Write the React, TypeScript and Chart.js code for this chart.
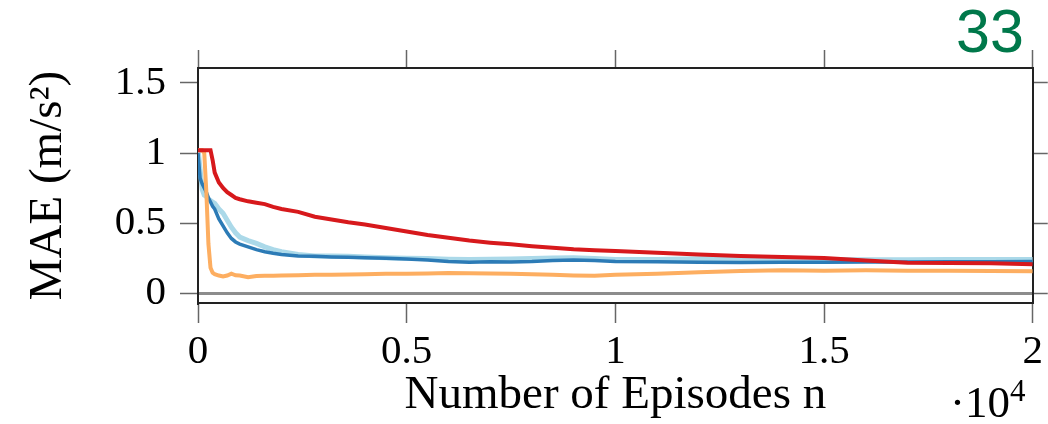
import React, { useEffect, useRef } from "react";
import { Chart, registerables } from "chart.js";

Chart.register(...registerables);

// ---- data ----
const episodes = [
  0, 50, 100, 150, 200, 250, 300, 350, 400,
  500, 600, 700, 800, 900, 1000,
  1200, 1400, 1600, 1800, 2000,
  2400, 2800, 3200, 3600, 4000,
  4500, 5000, 5500, 6000, 6500, 7000, 7500, 8000, 8500, 9000, 9500, 10000,
  11000, 12000, 13000, 14000, 15000, 16000, 17000, 18000, 19000, 20000,
];

const redSeries = [
  1.02, 1.02, 1.02, 1.02, 1.02, 1.02, 1.02, 0.95, 0.86,
  0.79, 0.75, 0.72, 0.7, 0.68, 0.67,
  0.655, 0.645, 0.635, 0.615, 0.6,
  0.58, 0.545, 0.525, 0.505, 0.49,
  0.465, 0.44, 0.415, 0.395, 0.375, 0.36, 0.348, 0.335, 0.323, 0.312, 0.305, 0.3,
  0.288, 0.275, 0.264, 0.258, 0.25, 0.232, 0.217, 0.214, 0.212, 0.206,
];

const orangeSeries = [
  1.02, 1.02, 1.02, 1.0, 0.72, 0.35, 0.18, 0.145, 0.135,
  0.125, 0.118, 0.125, 0.138, 0.127, 0.125,
  0.113, 0.122, 0.124, 0.124, 0.125,
  0.128, 0.13, 0.131, 0.133, 0.135,
  0.137, 0.138, 0.14, 0.143, 0.142, 0.14, 0.137, 0.134, 0.13, 0.126, 0.124, 0.13,
  0.137, 0.148, 0.158, 0.163, 0.16, 0.162, 0.16, 0.16, 0.158, 0.156,
];

const darkBlueSeries = [
  1.0, 0.82, 0.78, 0.75, 0.72, 0.68, 0.65, 0.62, 0.6,
  0.53, 0.48, 0.43, 0.39, 0.365, 0.35,
  0.33, 0.31, 0.295, 0.284, 0.275,
  0.264, 0.262, 0.258, 0.255, 0.252,
  0.248, 0.243, 0.236, 0.226, 0.22, 0.224, 0.222, 0.225, 0.232, 0.236, 0.232, 0.226,
  0.224, 0.22, 0.218, 0.22, 0.22, 0.221, 0.222, 0.223, 0.224, 0.225,
];

const lightBlueSeries = [
  1.03, 0.88, 0.74, 0.7, 0.69, 0.67, 0.66, 0.65, 0.64,
  0.6, 0.57, 0.52, 0.47, 0.43, 0.4,
  0.375, 0.355, 0.33, 0.31, 0.295,
  0.275, 0.264, 0.265, 0.262, 0.258,
  0.252, 0.248, 0.246, 0.242, 0.24, 0.242, 0.244, 0.246, 0.25, 0.252, 0.246, 0.24,
  0.24, 0.245, 0.248, 0.244, 0.24, 0.238, 0.238, 0.24, 0.24, 0.24,
];

const xTickValues = [0, 5000, 10000, 15000, 20000];
const xTickLabels = ["0", "0.5", "1", "1.5", "2"];
const yTickValues = [0, 0.5, 1, 1.5];
const yTickLabels = ["0", "0.5", "1", "1.5"];

const X_MIN = 0;
const X_MAX = 20000;
const Y_MIN = -0.071;
const Y_MAX = 1.607;

const SERIF = "'Liberation Serif', 'Times New Roman', serif";

export default function App() {
  const canvasRef = useRef<HTMLCanvasElement | null>(null);

  useEffect(() => {
    const canvas = canvasRef.current;
    if (!canvas) return;
    const toPts = (ys: number[]) => episodes.map((x, i) => ({ x, y: ys[i] }));
    const xTicksFn = (s: any) => {
      s.ticks = xTickValues.map((v) => ({ value: v }));
    };
    const yTicksFn = (s: any) => {
      s.ticks = yTickValues.map((v) => ({ value: v }));
    };
    const tickFont = { family: SERIF, size: 41 };
    const titleFont = { family: SERIF, size: 47 };
    const chart = new Chart(canvas, {
      type: "line",
      data: {
        datasets: [
          { label: "red", data: toPts(redSeries), borderColor: "#d7191c", borderWidth: 4 },
          { label: "orange", data: toPts(orangeSeries), borderColor: "#fdae61", borderWidth: 4 },
          { label: "darkblue", data: toPts(darkBlueSeries), borderColor: "#2c7bb6", borderWidth: 3.5 },
          { label: "lightblue", data: toPts(lightBlueSeries), borderColor: "#abd9e9", borderWidth: 5 },
        ],
      },
      options: {
        responsive: false,
        animation: false,
        layout: { padding: 0 },
        elements: { point: { radius: 0 }, line: { tension: 0 } },
        plugins: { legend: { display: false }, tooltip: { enabled: false } },
        scales: {
          x: {
            type: "linear",
            position: "bottom",
            min: X_MIN,
            max: X_MAX,
            afterBuildTicks: xTicksFn,
            afterFit: (s: any) => {
              s.height = 121;
            },
            ticks: {
              callback: (_v: any, i: number) => xTickLabels[i],
              font: tickFont,
              color: "#000",
              padding: 5,
              maxRotation: 0,
              autoSkip: false,
            },
            grid: { drawOnChartArea: false, tickLength: 20, tickColor: "#666", tickWidth: 1.5 },
            border: { color: "#222", width: 2 },
            title: {
              display: true,
              text: "Number of Episodes n",
              font: titleFont,
              color: "#000",
              padding: { top: 0, bottom: 0 },
            },
          },
          xTop: {
            type: "linear",
            position: "top",
            min: X_MIN,
            max: X_MAX,
            afterBuildTicks: xTicksFn,
            afterFit: (s: any) => {
              s.height = 68;
            },
            ticks: { display: false },
            grid: { drawOnChartArea: false, tickLength: 18, tickColor: "#666", tickWidth: 1.5 },
            border: { color: "#222", width: 2 },
          },
          y: {
            type: "linear",
            position: "left",
            min: Y_MIN,
            max: Y_MAX,
            afterBuildTicks: yTicksFn,
            afterFit: (s: any) => {
              s.width = 198;
            },
            ticks: {
              callback: (_v: any, i: number) => yTickLabels[i],
              font: tickFont,
              color: "#000",
              padding: 14,
            },
            grid: {
              drawOnChartArea: true,
              color: (ctx: any) => (ctx.tick && ctx.tick.value === 0 ? "#8c8c8c" : "rgba(0,0,0,0)"),
              lineWidth: (ctx: any) => (ctx.tick && ctx.tick.value === 0 ? 3 : 1),
              tickLength: 18,
              tickColor: "#666",
              tickWidth: 1.5,
            },
            border: { color: "#222", width: 2 },
            title: {
              display: true,
              text: "MAE (m/s²)",
              font: titleFont,
              color: "#000",
              padding: { top: 20, bottom: 0 },
            },
          },
          yRight: {
            type: "linear",
            position: "right",
            min: Y_MIN,
            max: Y_MAX,
            afterBuildTicks: yTicksFn,
            afterFit: (s: any) => {
              s.width = 15;
            },
            ticks: { display: false },
            grid: { drawOnChartArea: false, tickLength: 15, tickColor: "#666", tickWidth: 1.5 },
            border: { color: "#222", width: 2 },
          },
        },
      } as any,
    });
    return () => chart.destroy();
  }, []);

  return (
    <div style={{ position: "absolute", left: 0, top: 0, width: 1048, height: 424, background: "#fff" }}>
      <canvas ref={canvasRef} width={1048} height={424} style={{ display: "block" }} />
      <div
        style={{
          position: "absolute",
          left: 956,
          top: 1,
          fontFamily: "'Liberation Sans', Arial, sans-serif",
          fontSize: 61,
          lineHeight: "61px",
          color: "#00784a",
        }}
      >
        33
      </div>
      <div
        style={{
          position: "absolute",
          left: 950,
          top: 380,
          fontFamily: SERIF,
          fontSize: 45,
          lineHeight: "45px",
          color: "#000",
          whiteSpace: "nowrap",
        }}
      >
        ·10
        <span style={{ fontSize: 31, position: "relative", top: -16 }}>4</span>
      </div>
    </div>
  );
}
